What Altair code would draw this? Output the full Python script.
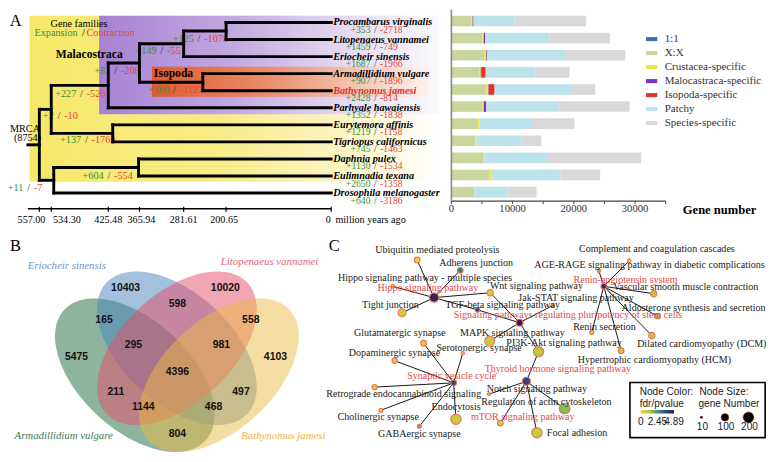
import altair as alt
import numpy as np
import pandas as pd

SX = 763 / 779
SY = 446 / 462
SERIF = "Liberation Serif"
SANS = "Liberation Sans"
GREEN = "#3b8f3b"
RED = "#e6453a"

# ======================= Panel A: species tree =======================
species = ["Procambarus virginalis", "Litopenaeus vannamei", "Eriocheir sinensis",
           "Armadillidium vulgare", "Bathynomus jamesi", "Parhyale hawaiensis",
           "Eurytemora affinis", "Tigriopus californicus", "Daphnia pulex",
           "Eulimnadia texana", "Drosophila melanogaster"]
tip_gain = [353, 1459, 1687, 907, 2428, 1352, 1219, 745, 1130, 2650, 640]
tip_loss = [2718, 749, 1966, 1896, 814, 1838, 1158, 1463, 1534, 1358, 3186]

node_names = ["PL", "PLE", "ISO", "PLEI", "MAL", "COP", "MC", "BRA", "BD", "ROOT"]
node_ages = [200.65, 281.61, 245.0, 365.94, 425.48, 417.0, 534.30, 367.7, 529.5, 557.00]
node_children = [["Procambarus virginalis", "Litopenaeus vannamei"],
                 ["PL", "Eriocheir sinensis"],
                 ["Armadillidium vulgare", "Bathynomus jamesi"],
                 ["PLE", "ISO"],
                 ["PLEI", "Parhyale hawaiensis"],
                 ["Eurytemora affinis", "Tigriopus californicus"],
                 ["MAL", "COP"],
                 ["Daphnia pulex", "Eulimnadia texana"],
                 ["BRA", "Drosophila melanogaster"],
                 ["MC", "BD"]]
node_gain = [125, 149, 468, 81, 227, 137, 2, 604, 11]
node_loss = [1078, 551, 1127, 208, 526, 1769, 10, 554, 7]
mrca_age = 579.0
mrca_families = 8754
time_ticks = [557.00, 534.30, 425.48, 365.94, 281.61, 200.65, 0]
time_label_shift_px = [-8, 16, 0, 2, 0, -2, -3]

# label anchors for branch gain/loss (age, tip-index units)
node_lab_age = [252.3, 323.4, 299.0, 411.2, 476.6, 467.3, 519.6, 424.3, 577.6]
node_lab_idx = [0.945, 1.70, 3.96, 2.83, 4.19, 6.90, 5.49, 9.00, 9.73]

# clade shading boxes (age from/to, tip-index top/bottom)
clade_names = ["Crustacea", "Malacostraca", "Isopoda"]
clade_from = [575.7, 443.0, 342.0]
clade_to = [-205.6, -205.6, -187.0]
clade_top = [-0.396, -0.396, 2.60]
clade_bottom = [9.34, 5.38, 4.36]

# ======================= Panel A: gene number bars =======================
bar_categories = ["1:1", "X:X", "Crustacea-specific", "Malocastraca-specific",
                  "Isopoda-specific", "Patchy", "Species-specific"]
bar_colors = ["#3f6fa8", "#c9d79f", "#f3e53f", "#7a36c0", "#e3332a", "#bce2ec", "#d9d9d9"]
cnt_11 = [80, 80, 80, 80, 80, 80, 80, 80, 80, 80, 80]
cnt_xx = [3220, 4980, 5250, 4450, 5620, 4980, 4290, 3760, 5090, 6160, 3650]
cnt_crus = [160, 220, 370, 270, 320, 220, 160, 260, 210, 370, 0]
cnt_mala = [160, 260, 160, 150, 80, 420, 0, 0, 0, 0, 0]
cnt_iso = [0, 0, 0, 650, 950, 0, 0, 0, 0, 0, 0]
cnt_patchy = [6680, 10460, 12740, 8100, 12650, 11800, 8470, 7300, 10420, 11190, 5470]
cnt_spec = [11700, 9900, 9800, 5600, 3800, 11600, 7100, 3300, 15200, 6500, 4700]
bar_ticks = [0, 5000, 10000, 15000, 20000, 25000, 30000, 35000]
bar_labels = [0, 10000, 20000, 30000]

# ======================= Panel B: Venn =======================
venn_sets = ["Eriocheir sinensis", "Litopenaeus vannamei", "Armadillidium vulgare", "Bathynomus jamesi"]
venn_colors = ["#4783bb", "#e54b65", "#1d6a42", "#ebb941"]
venn_text_colors = ["#6a98c8", "#e2667e", "#3a7a55", "#f0b040"]
venn_counts = [10403, 10020, 598, 165, 558, 295, 981, 5475, 4103, 4396, 211, 497, 1144, 468, 804]
venn_count_u = [0.317, 0.673, 0.502, 0.240, 0.764, 0.345, 0.659, 0.142, 0.852, 0.502, 0.282, 0.729, 0.380, 0.631, 0.502]
venn_count_v = [0.794, 0.794, 0.733, 0.676, 0.676, 0.582, 0.582, 0.539, 0.539, 0.482, 0.407, 0.407, 0.353, 0.353, 0.253]
venn_label_u = [0.107, 0.831, 0.096, 0.880]
venn_label_v = [0.876, 0.891, 0.246, 0.246]
# ellipse geometry (VennDiagram quad layout)
venn_cu = [0.50, 0.50, 0.35, 0.65]
venn_cv = [0.57, 0.57, 0.47, 0.47]
venn_rot = [-45, 45, -45, 45]

# ======================= Panel C: KEGG network =======================
net_names = ["Ubiquitin mediated proteolysis", "Adherens junction",
             "Hippo signaling pathway - multiple species", "Hippo signaling pathway",
             "Wnt signaling pathway", "Tight junction", "TGF-beta signaling pathway",
             "Jak-STAT signaling pathway", "Signaling pathways regulating pluripotency of stem cells",
             "MAPK signaling pathway", "PI3K-Akt signaling pathway", "Glutamatergic synapse",
             "Serotonergic synapse", "Dopaminergic synapse", "Synaptic vesicle cycle",
             "Retrograde endocannabinoid signaling", "Cholinergic synapse", "GABAergic synapse",
             "Endocytosis", "Thyroid hormone signaling pathway", "Notch signaling pathway",
             "Regulation of actin cytoskeleton", "mTOR signaling pathway", "Focal adhesion",
             "Renin-angiotensin system", "Complement and coagulation cascades",
             "AGE-RAGE signaling pathway in diabetic complications",
             "Vascular smooth muscle contraction", "Aldosterone synthesis and secretion",
             "Renin secretion", "Dilated cardiomyopathy (DCM)", "Hypertrophic cardiomyopathy (HCM)"]
net_x = [417.7, 461.7, 392.7, 435.0, 492.3, 402.3, 479.3, 556.0, 522.3, 491.7, 541.7, 424.3,
         464.3, 394.7, 455.0, 374.3, 380.7, 420.0, 457.3, 529.3, 491.0, 568.3, 502.7, 540.0,
         608.3, 634.3, 603.3, 659.3, 663.3, 596.0, 657.3, 626.0]
net_y = [261.0, 271.7, 288.3, 300.0, 295.0, 315.7, 312.7, 308.3, 326.0, 345.0, 356.0, 347.3,
         357.7, 365.3, 388.3, 392.7, 416.7, 433.3, 426.0, 386.7, 400.0, 415.0, 430.0, 440.0,
         288.3, 261.7, 272.3, 296.0, 319.3, 336.0, 339.3, 355.0]
net_genes = [55, 55, 20, 140, 69, 110, 37, 20, 80, 163, 180, 55, 20, 45, 55, 45, 27, 27, 180,
             110, 15, 200, 55, 180, 55, 20, 20, 69, 45, 27, 69, 55]
net_fdr = [0.2, 2.6, 0.2, 4.7, 0.6, 0.8, 3.9, 0.1, 4.89, 0.8, 1.2, 0.2, 0.2, 0.4, 4.0, 0.4, 0.4,
           1.8, 0.8, 3.8, 0.1, 1.6, 0.6, 0.8, 4.5, 0.1, 1.6, 1.2, 1.3, 0.2, 1.1, 0.9]
net_label_x = [438.3, 478.0, 425.8, 428.7, 539.5, 390.5, 505.0, 580.0, 571.7, 515.0, 567.7, 400.0,
               481.0, 394.5, 453.0, 404.0, 378.0, 420.0, 457.5, 561.3, 540.0, 549.7, 525.5, 581.0,
               630.5, 662.5, 655.0, 692.0, 700.0, 609.0, 708.3, 660.0]
net_label_y = [250.7, 264.3, 279.3, 290.0, 288.3, 307.3, 307.3, 300.7, 318.3, 336.7, 346.7, 336.7,
               352.7, 357.3, 381.0, 400.0, 423.3, 441.7, 413.3, 374.0, 394.3, 408.3, 423.3, 440.0,
               281.7, 250.0, 266.7, 289.3, 310.7, 330.0, 348.3, 365.0]
net_highlight = ["Hippo signaling pathway", "Signaling pathways regulating pluripotency of stem cells",
                 "Renin-angiotensin system", "Synaptic vesicle cycle",
                 "Thyroid hormone signaling pathway", "mTOR signaling pathway"]
net_edges = [("Hippo signaling pathway", "Ubiquitin mediated proteolysis"),
             ("Hippo signaling pathway", "Adherens junction"),
             ("Hippo signaling pathway", "Hippo signaling pathway - multiple species"),
             ("Hippo signaling pathway", "Tight junction"),
             ("Hippo signaling pathway", "Wnt signaling pathway"),
             ("Hippo signaling pathway", "TGF-beta signaling pathway"),
             ("Signaling pathways regulating pluripotency of stem cells", "TGF-beta signaling pathway"),
             ("Signaling pathways regulating pluripotency of stem cells", "Wnt signaling pathway"),
             ("Signaling pathways regulating pluripotency of stem cells", "Jak-STAT signaling pathway"),
             ("Signaling pathways regulating pluripotency of stem cells", "MAPK signaling pathway"),
             ("Signaling pathways regulating pluripotency of stem cells", "PI3K-Akt signaling pathway"),
             ("Thyroid hormone signaling pathway", "PI3K-Akt signaling pathway"),
             ("Thyroid hormone signaling pathway", "Notch signaling pathway"),
             ("Thyroid hormone signaling pathway", "Regulation of actin cytoskeleton"),
             ("Thyroid hormone signaling pathway", "mTOR signaling pathway"),
             ("Thyroid hormone signaling pathway", "Focal adhesion"),
             ("Synaptic vesicle cycle", "Glutamatergic synapse"),
             ("Synaptic vesicle cycle", "Serotonergic synapse"),
             ("Synaptic vesicle cycle", "Dopaminergic synapse"),
             ("Synaptic vesicle cycle", "Retrograde endocannabinoid signaling"),
             ("Synaptic vesicle cycle", "Cholinergic synapse"),
             ("Synaptic vesicle cycle", "GABAergic synapse"),
             ("Synaptic vesicle cycle", "Endocytosis"),
             ("Renin-angiotensin system", "Complement and coagulation cascades"),
             ("Renin-angiotensin system", "AGE-RAGE signaling pathway in diabetic complications"),
             ("Renin-angiotensin system", "Vascular smooth muscle contraction"),
             ("Renin-angiotensin system", "Aldosterone synthesis and secretion"),
             ("Renin-angiotensin system", "Renin secretion"),
             ("Renin-angiotensin system", "Dilated cardiomyopathy (DCM)"),
             ("Renin-angiotensin system", "Hypertrophic cardiomyopathy (HCM)")]
fdr_stops = [0, 1.2, 2.45, 3.7, 4.89]
fdr_colors = ["#f4d03a", "#b8c840", "#3d9a78", "#2f4a82", "#3b1650"]
legend_fdr_values = [0, 2.45, 4.89]
legend_gene_values = [10, 100, 200]

# ======================= helpers =======================
W_REF, H_REF = 779, 462


def xdom(a, b):
    """x domain over the whole canvas, with canvas-pixel = a + b*value"""
    return alt.Scale(domain=[(0 - a) / b, (W_REF - a) / b], nice=False, zero=False)


def ydom(a, b):
    """y domain over the whole canvas (first entry maps to the bottom)"""
    return alt.Scale(domain=[(H_REF - a) / b, (0 - a) / b], nice=False, zero=False)


def fs(px):
    return round(px * SY, 2)


def grad(stops):
    return alt.Gradient(gradient="linear", x1=0, x2=1, y1=0, y2=0,
                        stops=[alt.GradientStop(offset=o, color=c) for o, c in stops])


def xy(xf, yf, xs, ys):
    return dict(x=alt.X(f"{xf}:Q", scale=xs, axis=None), y=alt.Y(f"{yf}:Q", scale=ys, axis=None))


def txt(df, xf, yf, xs, ys, field="t", **mark):
    return alt.Chart(df).mark_text(**mark).encode(text=alt.Text(f"{field}:N"), **xy(xf, yf, xs, ys))


def gain_loss(df, xs, ys, size, gap=5.0):
    base = alt.Chart(df)
    return [
        base.mark_text(align="right", baseline="middle", dx=-gap, font=SERIF, fontSize=size,
                       color=GREEN).encode(text="g:N", **xy("a", "i", xs, ys)),
        base.mark_text(align="center", baseline="middle", text="/", font=SERIF, fontSize=size,
                       color="#333333").encode(**xy("a", "i", xs, ys)),
        base.mark_text(align="left", baseline="middle", dx=gap, font=SERIF, fontSize=size,
                       color=RED).encode(text="l:N", **xy("a", "i", xs, ys)),
    ]


layers = []

# ======================= Panel A tree =======================
T_A, T_B = 330.0, -0.535          # x: pixel = 330 - 0.535 * age
I_A, I_B = 15.0, 17.67            # y: pixel = 15 + 17.67 * tip index
tx, ty = xdom(T_A, T_B), ydom(I_A, I_B)

pos = {s: (0.0, float(i)) for i, s in enumerate(species)}
segs = []
for name, age, ch in zip(node_names, node_ages, node_children):
    ys_ = [pos[c][1] for c in ch]
    pos[name] = (age, float(np.mean(ys_)))
    segs.append({"x": age, "x2": age, "y": min(ys_), "y2": max(ys_)})
    for c in ch:
        segs.append({"x": age, "x2": pos[c][0], "y": pos[c][1], "y2": pos[c][1]})
root_y = pos["ROOT"][1]
segs.append({"x": mrca_age, "x2": node_ages[-1], "y": root_y, "y2": root_y})
seg_df = pd.DataFrame(segs)

grads = [
    grad([(0, "#f6e86a"), (0.45, "#f8ec86"), (0.75, "#fbf4c0"), (1, "#ffffff")]),
    grad([(0, "#a782d3"), (0.4, "#c3a9e2"), (0.72, "#e4d9f1"), (1, "#fbf9fd")]),
    grad([(0, "#df5a2e"), (0.4, "#e98b68"), (0.75, "#f4c7b5"), (1, "#fdf2ee")]),
]
for k in range(3):
    d = pd.DataFrame({"a0": [clade_from[k]], "a1": [clade_to[k]], "i0": [clade_top[k]],
                      "i1": [clade_bottom[k]], "clade": [clade_names[k]]})
    layers.append(alt.Chart(d).mark_rect(fill=grads[k]).encode(
        x2="a1:Q", y2="i1:Q", **xy("a0", "i0", tx, ty)))

sp_df = pd.DataFrame({"t": species, "a": -3.7, "i": range(len(species))})
layers.append(alt.Chart(sp_df).mark_text(
    align="left", baseline="middle", font=SERIF, fontSize=fs(10.6), fontStyle="italic",
    fontWeight="bold").encode(
    text="t:N",
    color=alt.condition(alt.datum.t == "Bathynomus jamesi", alt.value("#e0302a"), alt.value("black")),
    **xy("a", "i", tx, ty)))

tip_df = pd.DataFrame({"g": [f"+{g}" for g in tip_gain], "l": [f"-{l}" for l in tip_loss],
                       "a": -84.1, "i": [i + 0.44 for i in range(len(species))]})
layers += gain_loss(tip_df, tx, ty, fs(10.0), gap=4.8)

nd_df = pd.DataFrame({"g": [f"+{g}" for g in node_gain], "l": [f"-{l}" for l in node_loss],
                      "a": node_lab_age, "i": node_lab_idx})
layers += gain_loss(nd_df, tx, ty, fs(10.6), gap=5.2)

layers.append(txt(pd.DataFrame({"t": ["MRCA", f"({mrca_families})"], "a": [613.1, 605.6],
                                "i": [6.23, 6.79]}), "a", "i", tx, ty,
                  align="left", baseline="middle", font=SERIF, fontSize=fs(10.6), color="black"))
layers.append(txt(pd.DataFrame({"t": ["Malacostraca", "Isopoda"], "a": [461.7, 301.0],
                                "i": [1.92, 3.0]}), "a", "i", tx, ty,
                  align="center", baseline="middle", font=SERIF, fontSize=fs(12),
                  fontWeight="bold", color="black"))
layers.append(txt(pd.DataFrame({"t": ["Gene families"], "a": [481.3], "i": [0.11]}),
                  "a", "i", tx, ty, align="center", baseline="middle", font=SERIF,
                  fontSize=fs(10.6), color="black"))
layers.append(txt(pd.DataFrame({"t": ["Expansion"], "a": [484.0], "i": [0.61]}),
                  "a", "i", tx, ty, align="right", baseline="middle", font=SERIF,
                  fontSize=fs(10.6), color=GREEN))
layers.append(txt(pd.DataFrame({"t": ["/"], "a": [473.0], "i": [0.61]}),
                  "a", "i", tx, ty, align="center", baseline="middle", font=SERIF,
                  fontSize=fs(10.6), color="black"))
layers.append(txt(pd.DataFrame({"t": ["Contraction"], "a": [467.0], "i": [0.61]}),
                  "a", "i", tx, ty, align="left", baseline="middle", font=SERIF,
                  fontSize=fs(10.6), color=RED))
layers.append(txt(pd.DataFrame({"t": ["A"], "a": [613.5], "i": [-0.11]}),
                  "a", "i", tx, ty, align="left", baseline="middle", font=SERIF,
                  fontSize=fs(17), color="black"))

layers.append(alt.Chart(seg_df).mark_rule(strokeWidth=3 * SY, color="black",
                                           strokeCap="square").encode(
    x2="x2:Q", y2="y2:Q", **xy("x", "y", tx, ty)))

# time axis (line, ticks, labels) at pixel row 208
ax_i = (208 - I_A) / I_B
px_i = 1 / I_B  # one pixel in index units
layers.append(alt.Chart(pd.DataFrame({"x": [mrca_age], "x2": [0.0], "y": [ax_i]})).mark_rule(
    color="black", strokeWidth=1.4).encode(x2="x2:Q", **xy("x", "y", tx, ty)))
layers.append(alt.Chart(pd.DataFrame({"x": time_ticks, "y": ax_i - 2 * px_i,
                                      "y2": ax_i + 3 * px_i})).mark_rule(
    color="black", strokeWidth=1.2).encode(y2="y2:Q", **xy("x", "y", tx, ty)))
tl = pd.DataFrame({"t": [f"{v:.2f}" if v else "0" for v in time_ticks],
                   "x": [v - s / (-T_B) for v, s in zip(time_ticks, time_label_shift_px)],
                   "y": ax_i + 12 * px_i})
layers.append(txt(tl, "x", "y", tx, ty, align="center", baseline="middle", font=SERIF,
                  fontSize=fs(10.5), color="black"))
layers.append(txt(pd.DataFrame({"t": ["million years ago"], "x": [-8.0], "y": [ax_i + 12 * px_i]}),
                  "x", "y", tx, ty, align="left", baseline="middle", font=SERIF,
                  fontSize=fs(10.5), color="black"))

# ======================= Panel A bars =======================
B_A, B_B = 452.7, 0.00625
BI_A, BI_B = 13.5, 17.72
bx, by = xdom(B_A, B_B), ydom(BI_A, BI_B)
bar_axis_i = (200 - BI_A) / BI_B
bpx = 1 / BI_B
bar_values = [cnt_11, cnt_xx, cnt_crus, cnt_mala, cnt_iso, cnt_patchy, cnt_spec]
rows = []
for i, sp in enumerate(species):
    start = 0
    for cat, vals in zip(bar_categories, bar_values):
        rows.append({"species": sp, "cat": cat, "x0": start, "x1": start + vals[i],
                     "y0": i - 0.31, "y1": i + 0.31})
        start += vals[i]
bar_df = pd.DataFrame(rows)

bar_legend = alt.Legend(title=None, orient="none", legendX=651 * SX, legendY=26 * SY,
                        symbolType="M-1,-0.36H1V0.36H-1Z", symbolSize=128, symbolStrokeWidth=0,
                        labelFont=SERIF, labelFontSize=fs(11.4), labelColor="#333",
                        rowPadding=2.0, labelOffset=7, padding=0)
layers.append(alt.Chart(bar_df).mark_rect().encode(
    x2="x1:Q", y2="y1:Q",
    color=alt.Color("cat:N", scale=alt.Scale(domain=bar_categories, range=bar_colors),
                    legend=bar_legend),
    **xy("x0", "y0", bx, by)))
layers.append(alt.Chart(pd.DataFrame({"x": [0], "x2": [bar_ticks[-1]], "y": [bar_axis_i]})).mark_rule(
    color="#444", strokeWidth=1.2).encode(x2="x2:Q", **xy("x", "y", bx, by)))
layers.append(alt.Chart(pd.DataFrame({"x": [0], "y": [-0.67], "y2": [bar_axis_i]})).mark_rule(
    color="#8a8a8a", strokeWidth=1.6).encode(y2="y2:Q", **xy("x", "y", bx, by)))
layers.append(alt.Chart(pd.DataFrame({"x": bar_ticks, "y": bar_axis_i,
                                      "y2": bar_axis_i + 3 * bpx})).mark_rule(
    color="#444", strokeWidth=1).encode(y2="y2:Q", **xy("x", "y", bx, by)))
layers.append(txt(pd.DataFrame({"t": [str(v) for v in bar_labels], "x": bar_labels,
                                "y": bar_axis_i + 8 * bpx}), "x", "y", bx, by,
                  align="center", baseline="middle", font=SERIF, fontSize=fs(11), color="#333"))
layers.append(txt(pd.DataFrame({"t": ["Gene number"], "x": [(726.5 - B_A) / B_B],
                                "y": [bar_axis_i + 9 * bpx]}), "x", "y", bx, by,
                  align="center", baseline="middle", font=SERIF, fontSize=fs(13),
                  fontWeight="bold", color="black"))

# ======================= Panel B Venn =======================
vx, vy = xdom(29.4, 286.0), ydom(511.5, -279.0)
for k in [2, 0, 1, 3]:
    t = np.linspace(0, 2 * np.pi, 140)
    r = np.deg2rad(venn_rot[k])
    a_, b_ = 0.35, 0.20
    u = venn_cu[k] + a_ * np.cos(t) * np.cos(r) - b_ * np.sin(t) * np.sin(r)
    v = venn_cv[k] + a_ * np.cos(t) * np.sin(r) + b_ * np.sin(t) * np.cos(r)
    d = pd.DataFrame({"u": u, "v": v, "k": np.arange(len(t)), "set": venn_sets[k]})
    layers.append(alt.Chart(d).mark_line(fill=venn_colors[k], fillOpacity=0.5,
                                         strokeWidth=0, strokeOpacity=0).encode(
        order="k:Q", **xy("u", "v", vx, vy)))
layers.append(txt(pd.DataFrame({"t": [str(c) for c in venn_counts], "u": venn_count_u,
                                "v": venn_count_v}), "u", "v", vx, vy,
                  align="center", baseline="middle", font=SANS, fontSize=fs(10.8),
                  fontWeight="bold", color="#111"))
venn_lab_df = pd.DataFrame({"t": venn_sets, "u": venn_label_u, "v": venn_label_v,
                            "c": venn_text_colors})
layers.append(alt.Chart(venn_lab_df).mark_text(
    align="center", baseline="middle", font=SERIF, fontSize=fs(11.2), fontStyle="italic").encode(
    text="t:N", color=alt.Color("c:N", scale=None), **xy("u", "v", vx, vy)))
layers.append(txt(pd.DataFrame({"t": ["B"], "u": [-0.096], "v": [0.948]}), "u", "v", vx, vy,
                  align="left", baseline="middle", font=SERIF, fontSize=fs(17), color="black"))

# ======================= Panel C network =======================
nx, ny = xdom(0.0, 1.0), ydom(0.0, 1.0)
idx = {n: i for i, n in enumerate(net_names)}
edge_df = pd.DataFrame([{"x": net_x[idx[s]], "y": net_y[idx[s]], "x2": net_x[idx[t]],
                         "y2": net_y[idx[t]]} for s, t in net_edges])
node_df = pd.DataFrame({"name": net_names, "x": net_x, "y": net_y, "genes": net_genes,
                        "fdr": net_fdr, "lx": net_label_x, "ly": net_label_y})
size_scale = alt.Scale(domain=[0, 200], range=[0, 118])
color_scale = alt.Scale(domain=fdr_stops, range=fdr_colors)
layers += [
    alt.Chart(edge_df).mark_rule(color="#1a1a1a", strokeWidth=1.0).encode(
        x2="x2:Q", y2="y2:Q", **xy("x", "y", nx, ny)),
    alt.Chart(node_df).mark_circle(opacity=1, stroke="#ec6f5c", strokeWidth=1.1).encode(
        size=alt.Size("genes:Q", scale=size_scale, legend=None),
        fill=alt.Fill("fdr:Q", scale=color_scale, legend=None),
        **xy("x", "y", nx, ny)),
    alt.Chart(node_df).mark_text(align="center", baseline="middle", font=SERIF,
                                 fontSize=fs(10.4)).encode(
        text="name:N",
        color=alt.condition(alt.FieldOneOfPredicate(field="name", oneOf=net_highlight),
                            alt.value("#e24a48"), alt.value("#1a1a1a")),
        **xy("lx", "ly", nx, ny)),
    txt(pd.DataFrame({"t": ["C"], "x": [327.5], "y": [247.0]}), "x", "y", nx, ny,
        align="left", baseline="middle", font=SERIF, fontSize=fs(17), color="black"),
    # legend box
    alt.Chart(pd.DataFrame({"x": [635], "x2": [773], "y": [388], "y2": [445]})).mark_rect(
        fill="white", stroke="black", strokeWidth=1.6).encode(
        x2="x2:Q", y2="y2:Q", **xy("x", "y", nx, ny)),
    txt(pd.DataFrame({"t": ["Node Color:", "fdr/pvalue", "Node Size:", "gene Number"],
                      "x": [645, 645, 706, 705], "y": [398, 410, 398, 410]}), "x", "y", nx, ny,
        align="left", baseline="middle", font=SANS, fontSize=fs(10.4), color="#1a1a1a"),
    alt.Chart(pd.DataFrame({"x": [646], "x2": [680], "y": [416.5], "y2": [420]})).mark_rect(
        fill=grad([(s / fdr_stops[-1], c) for s, c in zip(fdr_stops, fdr_colors)])).encode(
        x2="x2:Q", y2="y2:Q", **xy("x", "y", nx, ny)),
    txt(pd.DataFrame({"t": [f"{v:g}" for v in legend_fdr_values],
                      "x": [646 + v / fdr_stops[-1] * 34 for v in legend_fdr_values],
                      "y": 428.5}), "x", "y", nx, ny,
        align="center", baseline="middle", font=SANS, fontSize=fs(10.4), color="#1a1a1a"),
    alt.Chart(pd.DataFrame({"genes": legend_gene_values, "x": [708, 732, 756],
                            "y": 424.0})).mark_circle(
        color="black", opacity=1, stroke="#d04040", strokeWidth=0.6).encode(
        size=alt.Size("genes:Q", scale=size_scale, legend=None), **xy("x", "y", nx, ny)),
    txt(pd.DataFrame({"t": [str(v) for v in legend_gene_values], "x": [709, 733, 757],
                      "y": 434.0}), "x", "y", nx, ny,
        align="center", baseline="middle", font=SANS, fontSize=fs(10.4), color="#1a1a1a"),
]

chart = alt.layer(*layers).resolve_scale(
    x="independent", y="independent", color="independent", fill="independent",
    size="independent").properties(
    width=763, height=446, padding=0, background="white",
    autosize=alt.AutoSizeParams(type="none")).configure_view(stroke=None)

chart.save("out.html", embed_options={"renderer": "svg", "actions": False})
